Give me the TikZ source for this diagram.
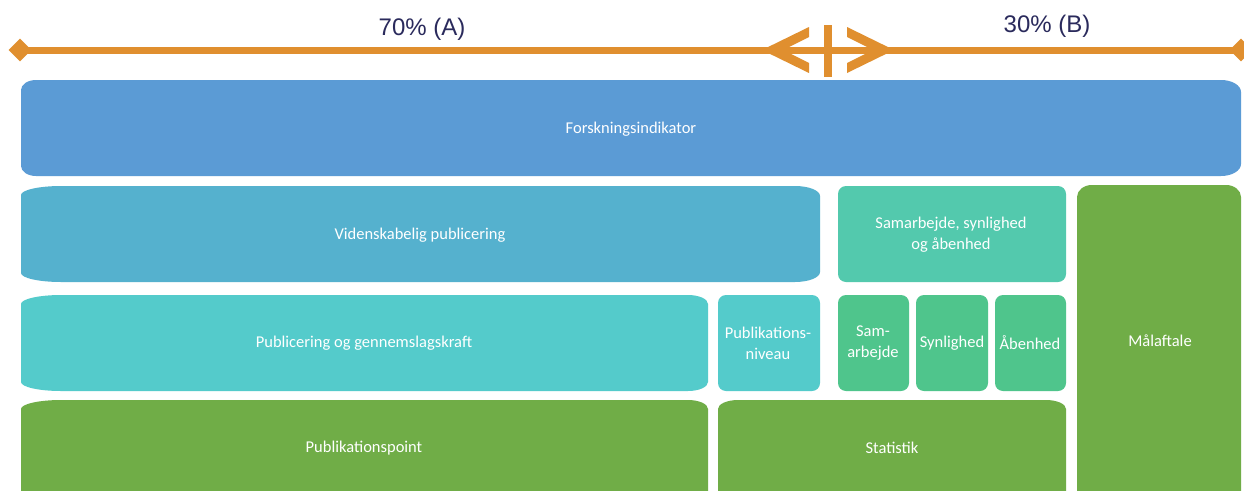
\documentclass[tikz,border=0pt]{standalone}
\usepackage{fontspec}
\setmainfont{Carlito}
\newfontfamily\headfont{Liberation Sans}
\usetikzlibrary{shapes.geometric}
\definecolor{cOrange}{HTML}{E08F2F}
\definecolor{cNavy}{HTML}{2A2A5C}
\definecolor{cBlue}{HTML}{5B9BD5}
\definecolor{cBlue2}{HTML}{55B1CE}
\definecolor{cTeal}{HTML}{54CBCB}
\definecolor{cMint}{HTML}{53C9AD}
\definecolor{cGreenL}{HTML}{4FC58C}
\definecolor{cGreen}{HTML}{70AD47}
% #1 colour, #2 x1, #3 y1, #4 x2, #5 y2, #6 rx left, #7 ry left, #8 rx right, #9 ry right
\newcommand\rbox[9]{%
 \fill[#1] (#2+#6,#3) -- (#4-#8,#3)
  .. controls (#4-0.448*#8,#3) and (#4,#3+0.448*#9) .. (#4,#3+#9)
  -- (#4,#5-#9)
  .. controls (#4,#5-0.448*#9) and (#4-0.448*#8,#5) .. (#4-#8,#5)
  -- (#2+#6,#5)
  .. controls (#2+0.448*#6,#5) and (#2,#5-0.448*#7) .. (#2,#5-#7)
  -- (#2,#3+#7)
  .. controls (#2,#3+0.448*#7) and (#2+0.448*#6,#3) .. (#2+#6,#3) -- cycle;}
\tikzset{
  lbl/.style={text=white, align=center, inner sep=0pt, font=\fontsize{16.5}{21}\selectfont},
  head/.style={text=cNavy, inner sep=0pt, font=\headfont\fontsize{24}{28}\selectfont},
  tipdia/.style={diamond, fill=cOrange, inner sep=0pt, minimum width=23pt, minimum height=23pt},
}
\begin{document}
\begin{tikzpicture}[x=1pt,y=-1pt]
\useasboundingbox (0,0) rectangle (1244,490);
\clip (0,0) rectangle (1244,490);
\fill[white] (0,0) rectangle (1244,490);
% top scale
\node[tipdia] (ldia) at (20,50) {};
\node[tipdia] (rdia) at (1241,50) {};
\draw[cOrange, line width=7pt] (ldia.center) -- (rdia.center);
\fill[cOrange] (762,50) -- (809,27) -- (809,37) -- (783,50) -- (809,63) -- (809,73) -- cycle;
\fill[cOrange] (894,50) -- (847,27) -- (847,37) -- (873,50) -- (847,63) -- (847,73) -- cycle;
\fill[cOrange] (824,25) rectangle (832,77);
\node[head] (ta) at (422,29) {70\% (A)};
\node[head] (tb) at (1047,26) {30\% (B)};
% boxes
\rbox{cBlue}{21}{80}{1241}{176}{15}{10}{20}{12}
\rbox{cBlue2}{21}{186}{820}{282}{40}{9}{25}{10}
\rbox{cMint}{838}{186}{1066}{282}{8}{8}{8}{8}
\rbox{cGreen}{1077}{185}{1241}{505}{15}{12}{15}{12}
\rbox{cTeal}{21}{295}{708}{391}{40}{9}{20}{9}
\rbox{cTeal}{718}{295}{820}{391}{8}{8}{8}{8}
\rbox{cGreenL}{838}{295}{909}{391}{8}{8}{8}{8}
\rbox{cGreenL}{916}{295}{988}{391}{8}{8}{8}{8}
\rbox{cGreenL}{995}{295}{1066}{391}{8}{8}{8}{8}
\rbox{cGreen}{21}{400}{708}{505}{40}{9}{20}{9}
\rbox{cGreen}{718}{400}{1066}{505}{20}{9}{20}{9}
% labels
\node[lbl] (forsk) at (631,129) {Forskningsindikator};
\node[lbl] (viden) at (420,235) {Videnskabelig publicering};
\node[lbl] (samsyn) at (951,235) {Samarbejde, synlighed\\og åbenhed};
\node[lbl] (maal) at (1160,341) {Målaftale};
\node[lbl] (publ) at (364,343) {Publicering og gennemslagskraft};
\node[lbl] (niv) at (768,343) {Publikations-\\niveau};
\node[lbl] (sam) at (873,343) {Sam-\\arbejde};
\node[lbl] (syn) at (952,343) {Synlighed};
\node[lbl] (aab) at (1030,343) {Åbenhed};
\node[lbl] (point) at (364,448) {Publikationspoint};
\node[lbl] (stat) at (892,448) {Statistik};
\end{tikzpicture}
\end{document}
